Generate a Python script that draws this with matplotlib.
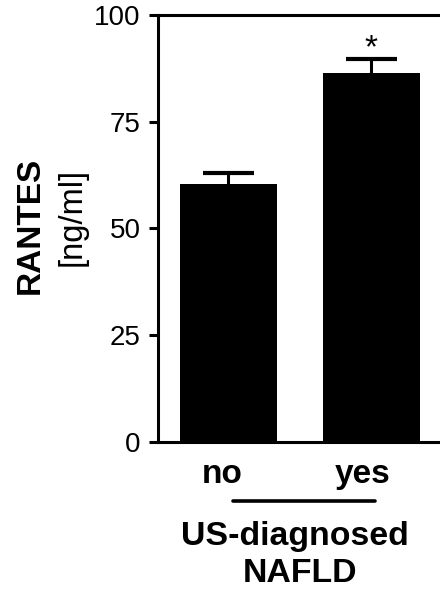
import numpy as np
import matplotlib
matplotlib.use("Agg")
import matplotlib.pyplot as plt
from matplotlib.lines import Line2D

plt.rcParams['font.family'] = ['Liberation Sans', 'DejaVu Sans']

# RANTES serum levels by ultrasound-diagnosed NAFLD
groups = ["no", "yes"]
means = [60.5, 86.5]
sems = [2.5, 3.2]
yticks = [0, 25, 50, 75, 100]
signif = ["", "*"]

fig = plt.figure(figsize=(4.4, 5.92), dpi=100)
ax = fig.add_axes([0.3591, 0.2539, 0.7091, 0.7208])

x = np.arange(len(groups))
tops = np.array(means) + np.array(sems)
ax.bar(x, means, width=0.678, color="black", zorder=2)
# upper error bars only
ax.vlines(x, means, tops, color="black", linewidth=2.2, zorder=1)
ax.hlines(tops, x - 0.18, x + 0.18, color="black", linewidth=3.0, zorder=1)
for xi, t, lab in zip(x, tops, signif):
    if lab:
        ax.text(xi, t - 1.3, lab, ha="center", va="bottom", fontsize=24)

ax.set_xlim(-0.4916, 1.690)
ax.set_ylim(0, 100)
ax.set_yticks(yticks)
ax.set_yticklabels([str(t) for t in yticks], fontsize=20)
ax.set_xticks([])
ax.spines["right"].set_visible(False)
for s in ["left", "top", "bottom"]:
    ax.spines[s].set_linewidth(2.2)
ax.tick_params(axis="y", direction="out", length=6.5, width=2.2, pad=6)

# group labels under the axis, nudged a little left of the bars
for xi, g, dx in zip(x, groups, [-0.042, -0.063]):
    ax.text(xi + dx, -7.8, g, ha="center", va="center", fontsize=24,
            fontweight="bold", transform=ax.transData, clip_on=False)

fig.add_artist(Line2D([233 / 440, 375 / 440], [1 - 501 / 592, 1 - 501 / 592],
                      color="black", linewidth=2.6, solid_capstyle="round"))
fig.text(295 / 440, 1 - 537 / 592, "US-diagnosed", ha="center", va="center",
         fontsize=24.4, fontweight="bold")
fig.text(300 / 440, 1 - 573 / 592, "NAFLD", ha="center", va="center",
         fontsize=24.4, fontweight="bold")

fig.text(30 / 440, 1 - 225 / 592, "RANTES", rotation=90, ha="center",
         va="center", fontsize=24, fontweight="bold")
fig.text(72 / 440, 1 - 217 / 592, "[ng/ml]", rotation=90, ha="center",
         va="center", fontsize=23.5)

fig.savefig("out.png", dpi=100)
